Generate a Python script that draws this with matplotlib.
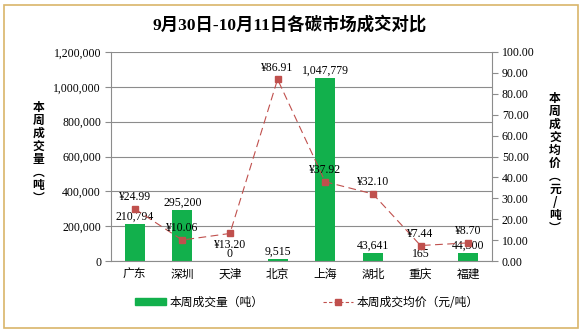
import matplotlib.pyplot as plt
from matplotlib.patches import Rectangle
from matplotlib.lines import Line2D

markets = ['广东', '深圳', '天津', '北京', '上海', '湖北', '重庆', '福建']
volume = [210794, 295200, 0, 9515, 1047779, 43641, 165, 44300]
price = [24.99, 10.06, 13.20, 86.91, 37.92, 32.10, 7.44, 8.70]
# price labels sitting below their marker
price_below = [False, False, True, False, False, False, False, False]

FONT = ['Liberation Serif', 'Noto Sans CJK SC']
CJK = ['Noto Sans CJK SC', 'Liberation Serif']
GREEN = '#12b04c'
RED = '#c0504d'

plt.rcParams['font.family'] = FONT

fig = plt.figure(figsize=(5.83, 3.33), dpi=100)
fig.patches.append(Rectangle((0.007, 0.015), 0.985, 0.97, transform=fig.transFigure,
                             fill=False, edgecolor='#d9b56a', linewidth=1.2))

ax = fig.add_axes([0.190, 0.216, 0.654, 0.628])
ax2 = ax.twinx()

x = list(range(len(markets)))
ax.bar(x, volume, width=0.42, color=GREEN, zorder=2)
ax.set_ylim(0, 1200000)
ax.set_yticks(range(0, 1200001, 200000))
ax.set_yticklabels(['{:,}'.format(v) for v in range(0, 1200001, 200000)], fontsize=8.5)
ax.set_xlim(-0.5, len(markets) - 0.5)
ax.set_xticks(x)
ax.set_xticklabels(markets, fontsize=8.5, family=CJK)
ax.grid(axis='y', color='#8c8c8c', linewidth=0.8, zorder=0)
ax.tick_params(axis='x', length=0, pad=5)
ax.tick_params(axis='y', length=4, color='#8c8c8c', pad=3)
for s in ['top', 'right']:
    ax.spines[s].set_visible(False)
for s in ['left', 'bottom']:
    ax.spines[s].set_color('#8c8c8c')

ax2.plot(x, price, color=RED, linestyle=(0, (7, 4)), linewidth=0.8,
         marker='s', markersize=5, markerfacecolor=RED, markeredgecolor=RED, zorder=3)
ax2.set_ylim(0, 100)
ax2.set_yticks(range(0, 101, 10))
ax2.set_yticklabels(['{:.2f}'.format(v) for v in range(0, 101, 10)], fontsize=8.5)
ax2.tick_params(axis='y', length=4, color='#8c8c8c', pad=3)
for s in ['top', 'left', 'bottom']:
    ax2.spines[s].set_visible(False)
ax2.spines['right'].set_color('#8c8c8c')

for i, v in enumerate(volume):
    ax.annotate('{:,}'.format(v), (i, v), xytext=(0, 1), textcoords='offset points',
                ha='center', va='bottom', fontsize=8.5, zorder=4)
for i, p in enumerate(price):
    off = -4 if price_below[i] else 4
    ax2.annotate('¥{:.2f}'.format(p), (i, p), xytext=(0, off), textcoords='offset points',
                 ha='center', va='top' if price_below[i] else 'bottom', fontsize=8.5, zorder=4)

fig.text(0.497, 0.925, '9月30日-10月11日各碳市场成交对比', ha='center', va='center',
         fontsize=12.5, fontweight='bold', family=FONT)
fig.text(0.066, 0.54, '\n'.join('本周成交量︵吨︶'), ha='center', va='center',
         fontsize=8.5, fontweight='bold', family=CJK, linespacing=1.0)
fig.text(0.952, 0.51, '\n'.join('本周成交均价︵元/吨︶'), ha='center', va='center',
         fontsize=8.5, fontweight='bold', family=CJK, linespacing=1.0)

handles = [Rectangle((0, 0), 1, 1, color=GREEN),
           Line2D([], [], color=RED, linestyle=(0, (3, 2)), linewidth=0.8,
                  marker='s', markersize=5, markerfacecolor=RED)]
fig.legend(handles, ['本周成交量（吨）', '本周成交均价（元/吨）'], loc='center',
           bbox_to_anchor=(0.527, 0.093), ncol=2, frameon=False, columnspacing=5,
           handlelength=2.6, handleheight=0.6, handletextpad=0.3,
           prop={'family': CJK, 'size': 8.5})

fig.savefig('out.png', dpi=100)
